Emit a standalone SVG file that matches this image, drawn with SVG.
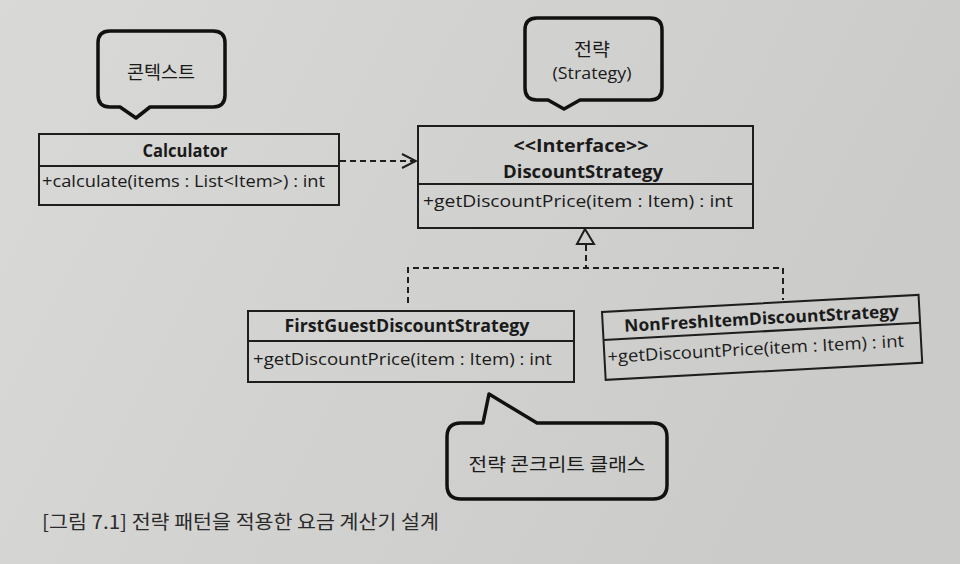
<svg xmlns="http://www.w3.org/2000/svg" width="960" height="564" viewBox="0 0 960 564">
  <defs>
    <linearGradient id="bg" x1="0" y1="0" x2="1" y2="0.3">
      <stop offset="0" stop-color="#d9d9d7"/>
      <stop offset="1" stop-color="#cbcbc9"/>
    </linearGradient>
    <marker id="open" viewBox="0 0 16 16" refX="15" refY="8" markerWidth="16" markerHeight="16" markerUnits="userSpaceOnUse" orient="auto">
      <path d="M1,1 L15,8 L1,15" fill="none" stroke="#1e1e1e" stroke-width="2"/>
    </marker>
    <style>
      .box { fill: none; stroke: #1e1e1e; stroke-width: 2; }
      .div { stroke: #1e1e1e; stroke-width: 2; }
      .call { fill: none; stroke: #111; stroke-width: 3.5; stroke-linejoin: round; }
      .dash { fill: none; stroke: #1e1e1e; stroke-width: 2; stroke-dasharray: 6 4; }
      .title { font-family: "Open Sans", "Noto Sans", sans-serif; font-weight: bold; font-size: 17px; fill: #1a1a1a; text-anchor: middle; }
      .meth { font-family: "Open Sans", "Noto Sans", sans-serif; font-size: 17px; fill: #1a1a1a; }
      .ko { font-family: "Noto Sans CJK KR", "Noto Sans", sans-serif; font-size: 18px; fill: #1a1a1a; text-anchor: middle; }
      .en { font-family: "Open Sans", "Noto Sans", sans-serif; font-size: 17px; fill: #1a1a1a; text-anchor: middle; }
      .cap { font-family: "Noto Sans CJK KR", "Noto Sans", sans-serif; font-size: 19px; fill: #2a2a2a; }
    </style>
  </defs>

  <rect x="0" y="0" width="960" height="564" fill="url(#bg)"/>

  <g id="callout-context">
    <path class="call" d="M110,31 H213 Q225,31 225,43 V95 Q225,107 213,107 H150 L136,118 L120,107 H110 Q98,107 98,95 V43 Q98,31 110,31 Z"/>
    <text class="ko" x="161" y="79" textLength="68" lengthAdjust="spacingAndGlyphs">콘텍스트</text>
  </g>

  <g id="callout-strategy">
    <path class="call" d="M537,18 H650 Q662,18 662,30 V88 Q662,100 650,100 H580 L564,109 L548,100 H537 Q525,100 525,88 V30 Q525,18 537,18 Z"/>
    <text class="ko" x="592" y="56" font-size="16.5" textLength="36" lengthAdjust="spacingAndGlyphs">전략</text>
    <text class="en" x="592" y="79" textLength="79" lengthAdjust="spacingAndGlyphs">(Strategy)</text>
  </g>

  <g id="calculator">
    <rect class="box" x="39" y="134" width="300" height="71"/>
    <line class="div" x1="39" y1="166" x2="339" y2="166"/>
    <text class="title" x="185" y="157" textLength="85" lengthAdjust="spacingAndGlyphs">Calculator</text>
    <text class="meth" x="42" y="187" textLength="283" lengthAdjust="spacingAndGlyphs">+calculate(items : List&lt;Item&gt;) : int</text>
  </g>

  <g id="discount-strategy">
    <rect class="box" x="418" y="126" width="335" height="102"/>
    <line class="div" x1="418" y1="184" x2="753" y2="184"/>
    <text class="title" x="581" y="152" textLength="135" lengthAdjust="spacingAndGlyphs">&lt;&lt;Interface&gt;&gt;</text>
    <text class="title" x="583" y="178" textLength="160" lengthAdjust="spacingAndGlyphs">DiscountStrategy</text>
    <text class="meth" x="423" y="207" textLength="310" lengthAdjust="spacingAndGlyphs">+getDiscountPrice(item : Item) : int</text>
  </g>

  <g id="first-guest">
    <rect class="box" x="248" y="311" width="326" height="71"/>
    <line class="div" x1="248" y1="341" x2="574" y2="341"/>
    <text class="title" x="407" y="332" textLength="245" lengthAdjust="spacingAndGlyphs">FirstGuestDiscountStrategy</text>
    <text class="meth" x="253" y="365" textLength="299" lengthAdjust="spacingAndGlyphs">+getDiscountPrice(item : Item) : int</text>
  </g>

  <g id="non-fresh" transform="translate(602,312) rotate(-3.1)">
    <rect class="box" x="0" y="0" width="317" height="68"/>
    <line class="div" x1="0" y1="28" x2="317" y2="28"/>
    <text class="title" x="159" y="21" textLength="275" lengthAdjust="spacingAndGlyphs">NonFreshItemDiscountStrategy</text>
    <text class="meth" x="3" y="51" textLength="297" lengthAdjust="spacingAndGlyphs">+getDiscountPrice(item : Item) : int</text>
  </g>

  <g id="callout-concrete">
    <path class="call" d="M461,423 H483 L489,394 L537,423 H653 Q667,423 667,437 V485 Q667,499 653,499 H461 Q447,499 447,485 V437 Q447,423 461,423 Z"/>
    <text class="ko" x="557" y="471" textLength="177" lengthAdjust="spacingAndGlyphs">전략 콘크리트 클래스</text>
  </g>

  <g id="connectors">
    <line class="dash" x1="340" y1="161" x2="416" y2="161" marker-end="url(#open)"/>
    <polygon points="585,229 577,244 594,244" fill="none" stroke="#1e1e1e" stroke-width="2" stroke-linejoin="miter"/>
    <line class="dash" x1="586" y1="245" x2="586" y2="268"/>
    <polyline class="dash" points="408,303 408,268 783,268 783,300"/>
  </g>

  <text class="cap" x="42" y="529" textLength="397" lengthAdjust="spacingAndGlyphs">[그림 7.1] 전략 패턴을 적용한 요금 계산기 설계</text>
</svg>
